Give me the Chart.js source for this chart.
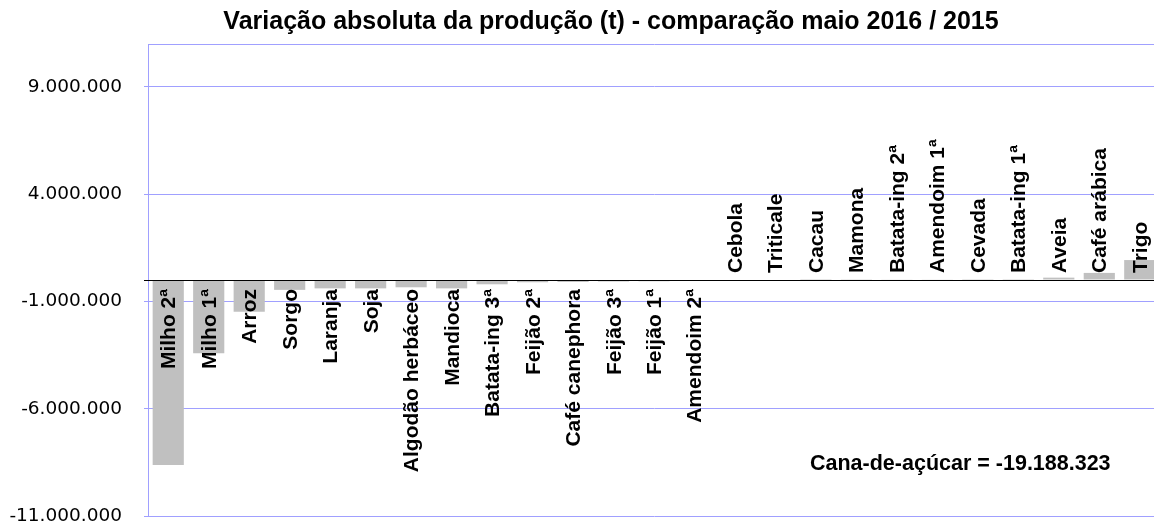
<!DOCTYPE html>
<html>
<head>
<meta charset="utf-8">
<script src="https://cdn.jsdelivr.net/npm/chart.js@4/dist/chart.umd.min.js"></script>
<style>
  html, body { margin: 0; padding: 0; background: #ffffff; overflow: hidden; }
  #wrap { width: 1160px; height: 524px; }
</style>
</head>
<body>
<div id="wrap"><canvas id="c" width="1160" height="524"></canvas></div>
<script>
const titleText = 'Variação absoluta da produção (t) - comparação maio 2016 / 2015';
const noteText = 'Cana-de-açúcar = -19.188.323';
const categories = ['Milho 2ª','Milho 1ª','Arroz','Sorgo','Laranja','Soja','Algodão herbáceo','Mandioca','Batata-ing 3ª','Feijão 2ª','Café canephora','Feijão 3ª','Feijão 1ª','Amendoim 2ª','Cebola','Triticale','Cacau','Mamona','Batata-ing 2ª','Amendoim 1ª','Cevada','Batata-ing 1ª','Aveia','Café arábica','Trigo'];
const values = [-8620000,-3420000,-1480000,-460000,-390000,-390000,-340000,-390000,-200000,-100000,-90000,-70000,-60000,-20000,0,0,5000,10000,30000,30000,40000,40000,110000,330000,930000];
const yTicks = [-11000000,-6000000,-1000000,0,4000000,9000000,11000000];
const yLabelled = [-11000000,-6000000,-1000000,4000000,9000000];

const GRID = 'rgb(160,160,255)';
const fmt = v => {
  const s = Math.abs(v).toString().replace(/\B(?=(\d{3})+(?!\d))/g, '.');
  return (v < 0 ? '-' : '') + s;
};

const overlay = {
  id: 'overlay',
  afterDatasetsDraw(chart) {
    const {ctx, chartArea, scales} = chart;
    const y0 = scales.y.getPixelForValue(0);
    ctx.save();
    ctx.strokeStyle = '#000';
    ctx.lineWidth = 1;
    ctx.beginPath();
    ctx.moveTo(chartArea.left - 4, Math.round(y0) + 0.5);
    ctx.lineTo(chartArea.right, Math.round(y0) + 0.5);
    ctx.stroke();
    // category labels
    ctx.fillStyle = '#000';
    ctx.font = 'bold 21px "Liberation Sans", Arial, sans-serif';
    ctx.textBaseline = 'alphabetic';
    categories.forEach((name, i) => {
      const x = scales.x.getPixelForValue(i);
      ctx.save();
      ctx.translate(x + 7, y0);
      ctx.rotate(-Math.PI / 2);
      if (values[i] < 0) {
        ctx.textAlign = 'right';
        ctx.fillText(name, -9, 0);
      } else {
        ctx.textAlign = 'left';
        ctx.fillText(name, 7, 0);
      }
      ctx.restore();
    });
    // note
    ctx.font = 'bold 21.5px "Liberation Sans", Arial, sans-serif';
    ctx.textAlign = 'left';
    ctx.textBaseline = 'middle';
    ctx.fillText(noteText, chartArea.right - 350, scales.y.getPixelForValue(-8600000));
    // title
    ctx.font = 'bold 25px "Liberation Sans", Arial, sans-serif';
    ctx.textAlign = 'center';
    ctx.fillText(titleText, 611, 22);
    ctx.restore();
  }
};

new Chart(document.getElementById('c'), {
  type: 'bar',
  data: {
    labels: categories,
    datasets: [{
      data: values,
      backgroundColor: '#c0c0c0',
      borderWidth: 0,
      barPercentage: 0.77,
      categoryPercentage: 1.0
    }]
  },
  options: {
    responsive: false,
    animation: false,
    layout: { padding: { top: 44, bottom: 8, left: 0, right: 0 } },
    plugins: { legend: { display: false }, tooltip: { enabled: false }, title: { display: false } },
    scales: {
      x: { display: false },
      y: {
        min: -11000000,
        max: 11000000,
        afterBuildTicks(scale) { scale.ticks = yTicks.map(v => ({ value: v })); },
        afterFit(scale) { scale.width = 148; scale.paddingTop = 0; scale.paddingBottom = 0; },
        border: { color: GRID, width: 1 },
        grid: {
          color: ctx => (ctx.tick && ctx.tick.value === 0) ? '#000' : GRID,
          tickColor: ctx => (ctx.tick && ctx.tick.value === 11000000) ? 'rgba(0,0,0,0)' : ((ctx.tick && ctx.tick.value === 0) ? '#000' : GRID),
          tickLength: 4,
          lineWidth: 1
        },
        ticks: {
          padding: 22,
          color: '#000',
          font: { family: '"DejaVu Sans", sans-serif', size: 18.5 },
          callback: v => yLabelled.includes(v) ? fmt(v) : ''
        }
      }
    }
  },
  plugins: [overlay]
});
</script>
</body>
</html>
